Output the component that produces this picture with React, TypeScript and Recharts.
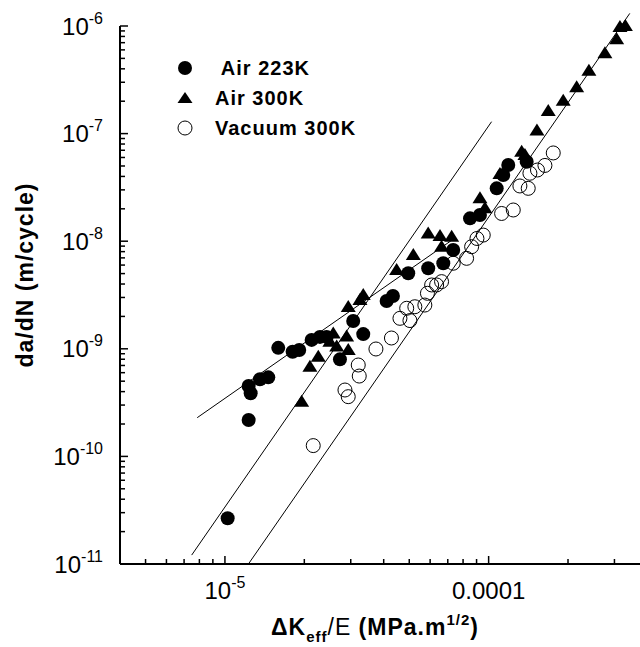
import React from 'react';
import { ScatterChart, Scatter, XAxis, YAxis, ReferenceLine, Legend } from 'recharts';

const FONT = '"Liberation Sans", Arial, Helvetica, sans-serif';

// Air 223K (filled circles)
const air223K_dk = [1.024e-5, 1.23e-5, 1.23e-5, 1.252e-5, 1.358e-5, 1.46e-5, 1.593e-5, 1.806e-5, 1.913e-5, 2.132e-5, 2.293e-5, 2.43e-5, 2.73e-5, 3.065e-5, 3.346e-5, 4.104e-5, 4.336e-5, 4.956e-5, 5.9e-5, 6.73e-5, 7.34e-5, 8.5e-5, 9.27e-5, 1.073e-4, 1.136e-4, 1.187e-4, 1.394e-4];
const air223K_rate = [2.66e-11, 2.18e-10, 4.51e-10, 3.86e-10, 5.21e-10, 5.43e-10, 1.02e-9, 9.4e-10, 9.75e-10, 1.21e-9, 1.29e-9, 1.29e-9, 7.98e-10, 1.81e-9, 1.37e-9, 2.78e-9, 3.1e-9, 5.03e-9, 5.6e-9, 6.24e-9, 8.28e-9, 1.63e-8, 1.75e-8, 3.1e-8, 4.12e-8, 5.11e-8, 5.48e-8];

// Air 300K (filled triangles)
const air300K_dk = [1.954e-5, 2.1e-5, 2.259e-5, 2.5e-5, 2.575e-5, 2.653e-5, 2.894e-5, 2.935e-5, 2.935e-5, 3.25e-5, 3.346e-5, 4.478e-5, 5.18e-5, 5.9e-5, 6.54e-5, 7.24e-5, 6.63e-5, 9.27e-5, 9.68e-5, 1.104e-4, 1.334e-4, 1.373e-4, 1.525e-4, 1.683e-4, 1.918e-4, 2.157e-4, 2.4e-4, 2.76e-4, 3.058e-4, 3.147e-4, 3.3e-4];
const air300K_rate = [3.22e-10, 6.82e-10, 8.45e-10, 1.16e-9, 1.39e-9, 1.05e-9, 1.3e-9, 9.75e-10, 2.44e-9, 2.84e-9, 3.16e-9, 5.4e-9, 7.44e-9, 1.18e-8, 1.12e-8, 1.1e-8, 8.89e-9, 2.51e-8, 2.02e-8, 4.22e-8, 6.79e-8, 6.32e-8, 1.07e-7, 1.62e-7, 2.02e-7, 2.69e-7, 3.84e-7, 5.58e-7, 7.52e-7, 9.79e-7, 1.0e-6];

// Vacuum 300K (open circles)
const vacuum_dk = [2.162e-5, 2.852e-5, 2.935e-5, 3.203e-5, 3.231e-5, 3.738e-5, 4.28e-5, 4.61e-5, 5.03e-5, 4.89e-5, 5.25e-5, 5.73e-5, 5.86e-5, 6.08e-5, 6.35e-5, 6.63e-5, 7.34e-5, 8.25e-5, 8.62e-5, 9.03e-5, 9.54e-5, 1.12e-4, 1.24e-4, 1.314e-4, 1.413e-4, 1.434e-4, 1.532e-4, 1.635e-4, 1.758e-4];
const vacuum_rate = [1.26e-10, 4.14e-10, 3.59e-10, 7.07e-10, 5.58e-10, 9.96e-10, 1.26e-9, 1.92e-9, 1.83e-9, 2.38e-9, 2.46e-9, 2.55e-9, 3.28e-9, 3.92e-9, 3.92e-9, 4.21e-9, 6.24e-9, 6.93e-9, 8.89e-9, 1.06e-8, 1.14e-8, 1.81e-8, 1.95e-8, 3.26e-8, 3.1e-8, 4.28e-8, 4.59e-8, 5.06e-8, 6.61e-8];

// fitted straight lines (end points)
const fitShallow_dk = [7.85e-6, 7.45e-5];
const fitShallow_rate = [2.29e-10, 1.07e-8];
const fitSteep_dk = [7.48e-6, 1.026e-4];
const fitSteep_rate = [1.21e-11, 1.29e-7];
const fitVacuum_dk = [1.233e-5, 3.43e-4];
const fitVacuum_rate = [1.015e-11, 1.31e-6];

const legendLabels = [' Air 223K', 'Air 300K', 'Vacuum 300K'];

const xMinor = [5e-6, 6e-6, 7e-6, 8e-6, 9e-6, 2e-5, 3e-5, 4e-5, 5e-5, 6e-5, 7e-5, 8e-5, 9e-5, 2e-4, 3e-4];
const xMajor = [1e-5, 1e-4];
const xMajorLabels = [['10', '-5'], ['0.0001', '']];

const yMajor = [1e-11, 1e-10, 1e-9, 1e-8, 1e-7, 1e-6];
const yMajorLabels = ['-11', '-10', '-9', '-8', '-7', '-6'];
const yMultipliers = [2, 3, 4, 5, 6, 7, 8, 9];

const xTicks = [...xMinor, ...xMajor].sort((a, b) => a - b);
const yTicks = [
  ...yMajor,
  ...yMajor.slice(0, -1).flatMap((d) => yMultipliers.map((m) => m * d)),
].sort((a, b) => a - b);

const zip = (xs: number[], ys: number[]) => xs.map((x, i) => ({ x, y: ys[i] }));

const majorIndex = (list: number[], v: number) =>
  list.findIndex((m) => Math.abs(Math.log10(m) - Math.log10(v)) < 1e-6);

function XTick(props: any) {
  const { x, y, payload } = props;
  const i = majorIndex(xMajor, payload.value);
  const major = i >= 0;
  return (
    <g>
      <line x1={x} y1={y} x2={x} y2={y - (major ? 8 : 5)} stroke="#000" strokeWidth={1.5} />
      {major && (
        <text x={x} y={y + 35} textAnchor="middle" fontFamily={FONT} fontSize={24} fill="#000">
          {xMajorLabels[i][0]}
          {xMajorLabels[i][1] && (
            <tspan dy={-11} fontSize={16}>{xMajorLabels[i][1]}</tspan>
          )}
        </text>
      )}
    </g>
  );
}

function YTick(props: any) {
  const { x, y, payload } = props;
  const i = majorIndex(yMajor, payload.value);
  const major = i >= 0;
  return (
    <g>
      <line x1={x} y1={y} x2={x + (major ? 8 : 5)} y2={y} stroke="#000" strokeWidth={1.5} />
      {major && (
        <text x={x - 17} y={y + 8.5} textAnchor="end" fontFamily={FONT} fontSize={24} fill="#000">
          10
          <tspan dy={-11} fontSize={16}>{yMajorLabels[i]}</tspan>
        </text>
      )}
    </g>
  );
}

function XTitle() {
  return (
    <text x={271} y={635} fontFamily={FONT} fontSize={23} fontWeight="bold" letterSpacing={1} fill="#000">
      ΔK
      <tspan dy={7} fontSize={15}>eff</tspan>
      <tspan dy={-7} fontWeight="normal">/E</tspan>
      <tspan> (MPa.m</tspan>
      <tspan dy={-10} fontSize={15}>1/2</tspan>
      <tspan dy={10}>)</tspan>
    </text>
  );
}

function YTitle() {
  return (
    <text
      x={25}
      y={275}
      transform="rotate(-90 25 275)"
      textAnchor="middle"
      dominantBaseline="central"
      fontFamily={FONT}
      fontSize={23}
      fontWeight="bold"
      letterSpacing={1}
      fill="#000"
    >
      da/dN (m/cycle)
    </text>
  );
}

const FilledCircle = (p: any) => <circle cx={p.cx} cy={p.cy} r={7} fill="#000" />;
const OpenCircle = (p: any) => <circle cx={p.cx} cy={p.cy} r={7} fill="none" stroke="#000" strokeWidth={1} />;
const Triangle = (p: any) => (
  <polygon points={`${p.cx},${p.cy - 7} ${p.cx + 7.5},${p.cy + 5} ${p.cx - 7.5},${p.cy + 5}`} fill="#000" />
);

function LegendBox() {
  return (
    <div style={{ fontFamily: FONT, fontWeight: 'bold', fontSize: 20, letterSpacing: 1, color: '#000' }}>
      {legendLabels.map((label, i) => (
        <div key={label} style={{ display: 'flex', alignItems: 'center', height: 30 }}>
          <svg width={16} height={16} style={{ marginRight: 22, overflow: 'visible' }}>
            {i === 0 && <circle cx={8} cy={8} r={7} fill="#000" />}
            {i === 1 && <polygon points="8,2 15.5,13 0.5,13" fill="#000" />}
            {i === 2 && <circle cx={8} cy={8} r={7} fill="none" stroke="#000" />}
          </svg>
          <span style={{ whiteSpace: 'pre' }}>{label}</span>
        </div>
      ))}
    </div>
  );
}

export default function App() {
  return (
    <div style={{ position: 'absolute', left: 0, top: 0, width: 640, height: 647, background: '#fff' }}>
      <ScatterChart width={640} height={647} margin={{ top: 26, right: 0, bottom: 0, left: 0 }}>
        <XAxis
          type="number"
          dataKey="x"
          scale="log"
          domain={[4e-6, 3.75e-4]}
          ticks={xTicks}
          interval={0}
          height={83}
          tickSize={0}
          tickMargin={0}
          tickLine={false}
          tick={(p: any) => <XTick {...p} />}
          axisLine={{ stroke: '#000', strokeWidth: 2 }}
          label={<XTitle />}
        />
        <YAxis
          type="number"
          dataKey="y"
          scale="log"
          domain={[1e-11, 1e-6]}
          ticks={yTicks}
          interval={0}
          width={120}
          tickSize={0}
          tickMargin={0}
          tickLine={false}
          tick={(p: any) => <YTick {...p} />}
          axisLine={{ stroke: '#000', strokeWidth: 2 }}
          label={<YTitle />}
        />
        <ReferenceLine
          segment={zip(fitShallow_dk, fitShallow_rate)}
          stroke="#000"
          strokeWidth={1}
          ifOverflow="visible"
        />
        <ReferenceLine
          segment={zip(fitSteep_dk, fitSteep_rate)}
          stroke="#000"
          strokeWidth={1}
          ifOverflow="visible"
        />
        <ReferenceLine
          segment={zip(fitVacuum_dk, fitVacuum_rate)}
          stroke="#000"
          strokeWidth={1}
          ifOverflow="visible"
        />
        <Scatter name="Air 223K" data={zip(air223K_dk, air223K_rate)} shape={FilledCircle} isAnimationActive={false} />
        <Scatter name="Air 300K" data={zip(air300K_dk, air300K_rate)} shape={Triangle} isAnimationActive={false} />
        <Scatter name="Vacuum 300K" data={zip(vacuum_dk, vacuum_rate)} shape={OpenCircle} isAnimationActive={false} />
        <Legend
          layout="vertical"
          verticalAlign="middle"
          align="center"
          content={() => <LegendBox />}
          wrapperStyle={{ top: 53, left: 177, width: 'auto', height: 'auto' }}
        />
      </ScatterChart>
    </div>
  );
}
